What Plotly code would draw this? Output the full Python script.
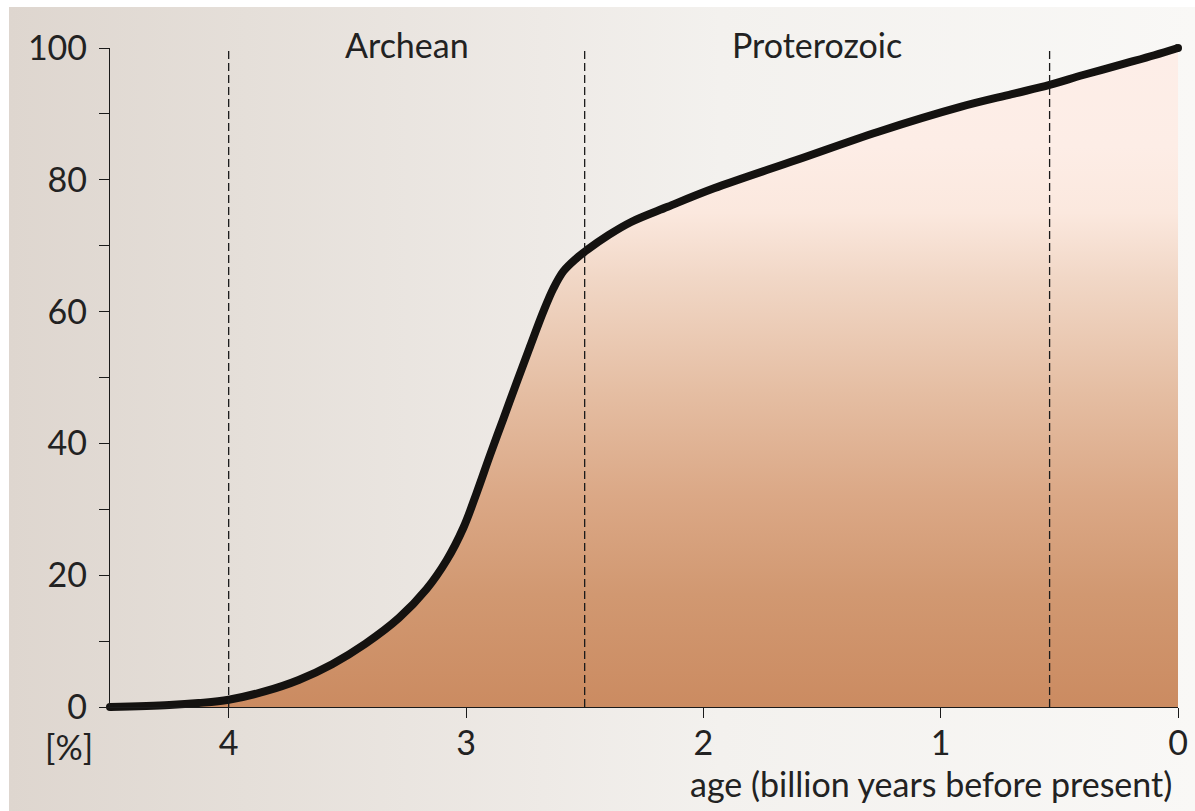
import base64
import plotly.graph_objects as go

# ---------------- data ----------------
age = [4.5, 4.25, 4.127, 4.0, 3.845, 3.705, 3.564, 3.424, 3.283, 3.166, 3.081,
       3.011, 2.955, 2.899, 2.843, 2.786, 2.73, 2.674, 2.632, 2.59, 2.534, 2.492,
       2.4, 2.304, 2.15, 1.955, 1.608, 1.262, 0.913, 0.7, 0.541, 0.4, 0.219,
       0.1, 0.0]
pct = [0.0, 0.3, 0.6, 1.1, 2.4, 4.1, 6.5, 9.6, 13.5, 17.9, 22.3,
       27.2, 32.5, 38.2, 43.7, 49.3, 54.7, 60.0, 63.5, 66.1, 68.1, 69.3,
       71.6, 73.6, 75.9, 78.7, 83.0, 87.3, 91.1, 93.0, 94.4, 95.9, 97.7,
       98.9, 100.0]
era_bounds = [4.0, 2.5, 0.541]
era_names = ["Archean", "Proterozoic"]
era_label_x = [3.25, 1.52]
x_tickvals = [4, 3, 2, 1, 0]
y_tickvals = list(range(0, 101, 10))
y_ticktext = [str(v) if v % 20 == 0 else "" for v in y_tickvals]
x_title = "age (billion years before present)"
y_unit = "[%]"

# ---------------- layout geometry ----------------
W, H = 1195, 811
AX_L, AX_R, AX_T, AX_B = 110, 1178, 48, 707      # pixel frame of visible axes
PAD = 12
X_HI, X_LO, Y_LO, Y_HI = 4.5, 0.0, 0.0, 100.0
ml, mr, mt, mb = AX_L - PAD, W - AX_R - PAD, AX_T - PAD, H - AX_B - PAD
pw, ph = W - ml - mr, H - mt - mb
xs = (AX_R - AX_L) / (X_HI - X_LO)
ys = (AX_B - AX_T) / (Y_HI - Y_LO)


def py2paper(py):
    return (H - mb - py) / ph


def px2paper(px):
    return (px - ml) / pw


FONT = "Lato, 'Open Sans', sans-serif"
TXT = "#222222"

# background gradient image (left-to-right)
bg_stops = [(0, "#DED6CF"), (0.2, "#E5DFD9"), (0.45, "#EEEAE6"),
            (0.6, "#F3F1EE"), (1, "#F9F8F6")]
stops = "".join(f'<stop offset="{o}" stop-color="{c}"/>' for o, c in bg_stops)
svg = ('<svg xmlns="http://www.w3.org/2000/svg" width="100" height="100" '
       'viewBox="0 0 100 100" preserveAspectRatio="none"><defs>'
       f'<linearGradient id="g" x1="0" y1="0" x2="1" y2="0">{stops}</linearGradient>'
       '</defs><rect width="100" height="100" fill="url(#g)"/></svg>')
bg_src = "data:image/svg+xml;base64," + base64.b64encode(svg.encode()).decode()

fill_scale = [[0.0, "#CB8B61"], [0.17, "#D19871"], [0.32, "#DBA886"],
              [0.48, "#E5BEA3"], [0.65, "#F1D7C6"], [0.75, "#FBE8DE"],
              [0.85, "#FDEDE6"], [1.0, "#FDEEE8"]]

CURVE = "#141210"
SPL = dict(shape="spline", smoothing=1.0)

fig = go.Figure()

# filled area under the curve
fig.add_trace(go.Scatter(
    x=age, y=pct, mode="lines", line=dict(width=0, **SPL),
    fill="tozeroy",
    fillgradient=dict(type="vertical", colorscale=fill_scale, start=Y_LO, stop=Y_HI),
    hoverinfo="skip", showlegend=False))

# main curve
fig.add_trace(go.Scatter(x=age, y=pct, mode="lines",
                         line=dict(color=CURVE, width=8, **SPL),
                         showlegend=False))
# round end caps
fig.add_trace(go.Scatter(x=[age[0], age[-1]], y=[pct[0], pct[-1]], mode="markers",
                         marker=dict(color=CURVE, size=8, line=dict(width=0)),
                         cliponaxis=False, hoverinfo="skip", showlegend=False))

# dashed era boundaries (on the visible axes)
dx, dy = [], []
for b in era_bounds:
    dx += [b, b, None]
    dy += [Y_LO, Y_HI, None]
fig.add_trace(go.Scatter(x=dx, y=dy, mode="lines", xaxis="x2", yaxis="y2",
                         line=dict(color="#1A1A1A", width=1.3, dash="8px,4px"),
                         hoverinfo="skip", showlegend=False))

annotations = []
for name, xv in zip(era_names, era_label_x):
    annotations.append(dict(text=name, x=xv, xref="x", y=py2paper(44), yref="paper",
                            xanchor="center", yanchor="middle", showarrow=False,
                            font=dict(family=FONT, size=34, color=TXT)))
annotations.append(dict(text=y_unit, x=px2paper(95), xref="paper", y=py2paper(746),
                        yref="paper", xanchor="right", yanchor="middle", showarrow=False,
                        font=dict(family=FONT, size=34, color=TXT)))
annotations.append(dict(text=x_title, x=px2paper(1174), xref="paper", y=py2paper(783),
                        yref="paper", xanchor="right", yanchor="middle", showarrow=False,
                        font=dict(family=FONT, size=34, color=TXT)))

axis_common = dict(showgrid=False, zeroline=False, showline=True, linecolor="#1A1A1A",
                   linewidth=1.3, ticks="outside", ticklen=10, tickwidth=1.3,
                   tickcolor="#1A1A1A", tickfont=dict(family=FONT, size=34, color=TXT),
                   fixedrange=True, automargin=False)

fig.update_layout(
    width=W, height=H, autosize=False,
    margin=dict(l=ml, r=mr, t=mt, b=mb, pad=0, autoexpand=False),
    paper_bgcolor="white", plot_bgcolor="rgba(0,0,0,0)",
    showlegend=False,
    xaxis=dict(range=[X_HI + PAD / xs, X_LO - PAD / xs], domain=[0, 1], visible=False,
               fixedrange=True, automargin=False),
    yaxis=dict(range=[Y_LO - PAD / ys, Y_HI + PAD / ys], domain=[0, 1], visible=False,
               fixedrange=True, automargin=False),
    xaxis2=dict(range=[X_HI, X_LO], domain=[PAD / pw, 1 - PAD / pw], anchor="y2",
                tickvals=x_tickvals, ticktext=[str(v) for v in x_tickvals],
                ticklabelstandoff=-4, **axis_common),
    yaxis2=dict(range=[Y_LO, Y_HI], domain=[PAD / ph, 1 - PAD / ph], anchor="x2",
                tickvals=y_tickvals, ticktext=y_ticktext, ticklabelstandoff=5, **axis_common),
    images=[dict(source=bg_src, xref="paper", yref="paper",
                 x=px2paper(9), y=py2paper(7), sizex=(W - 9) / pw, sizey=(H - 7) / ph,
                 xanchor="left", yanchor="top", sizing="stretch", layer="below")],
    annotations=annotations,
)

fig.write_html("out.html", config={"displayModeBar": False},
               post_script="document.body.style.margin='0';document.body.style.overflow='hidden';")
